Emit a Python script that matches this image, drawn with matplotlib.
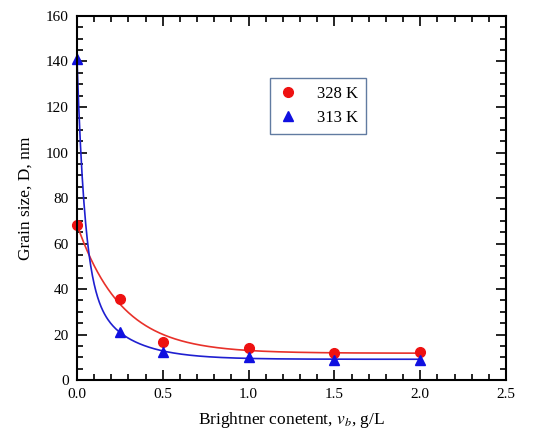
import numpy as np
import matplotlib.pyplot as plt
from matplotlib.ticker import MultipleLocator

plt.rcParams['font.family'] = ['Liberation Serif', 'DejaVu Serif']
plt.rcParams['mathtext.fontset'] = 'stix'

# brightener content (g/L) and grain size (nm)
conc = np.array([0.0, 0.25, 0.5, 1.0, 1.5, 2.0])
size_328 = np.array([68, 35.5, 16.5, 14, 12, 12.5])
size_313 = np.array([141, 21, 12.5, 10, 9, 9])

# exponential decay fits (least squares on amplitudes, fixed decay lengths)
def fit_curve(x, y, taus, xf):
    A = np.column_stack([np.ones_like(x)] + [np.exp(-x / t) for t in taus])
    coef = np.linalg.lstsq(A, y, rcond=None)[0]
    Af = np.column_stack([np.ones_like(xf)] + [np.exp(-xf / t) for t in taus])
    return Af @ coef

xf = np.linspace(0, 2.0, 400)
fit_328 = fit_curve(conc, size_328, [0.26], xf)
fit_313 = fit_curve(conc, size_313, [0.045, 0.22], xf)

fig = plt.figure(figsize=(5.52, 4.37), dpi=100)
ax = fig.add_axes([0.1395, 0.1304, 0.7772, 0.833])

ax.plot(xf, fit_328, color='#e8312a', lw=1.2)
ax.plot(xf, fit_313, color='#1f1fd0', lw=1.2)
ax.plot(conc, size_328, 'o', color='#ee1111', ms=7, label='328 K', clip_on=False)
ax.plot(conc, size_313, '^', color='#1010e0', ms=7, label='313 K', clip_on=False)

ax.set_xlim(0, 2.5)
ax.set_ylim(0, 160)
ax.xaxis.set_major_locator(MultipleLocator(0.5))
ax.xaxis.set_minor_locator(MultipleLocator(0.1))
ax.yaxis.set_major_locator(MultipleLocator(20))
ax.yaxis.set_minor_locator(MultipleLocator(5))
ax.xaxis.set_major_formatter(plt.FormatStrFormatter('%.1f'))
ax.tick_params(which='both', direction='in', top=True, right=True, labelsize=11, width=1.2)
ax.tick_params(which='major', length=7, pad=6)
ax.tick_params(which='minor', length=4)
for s in ax.spines.values():
    s.set_linewidth(1.5)

ax.set_xlabel('Brightner conetent, $v_b$, g/L', fontsize=12.5, labelpad=6)
ax.set_ylabel('Grain size, D, nm', fontsize=12.5, labelpad=9)

leg = ax.legend(loc='upper left', bbox_to_anchor=(270 / 552, 1 - 78 / 437),
                bbox_transform=fig.transFigure, borderaxespad=0, fontsize=12,
                frameon=True, fancybox=False, handletextpad=1.1, borderpad=0.5,
                labelspacing=0.45, handlelength=1.2)
leg.get_frame().set_edgecolor('#3a5a8a')
leg.get_frame().set_linewidth(1.0)

fig.savefig('out.png', dpi=100)
